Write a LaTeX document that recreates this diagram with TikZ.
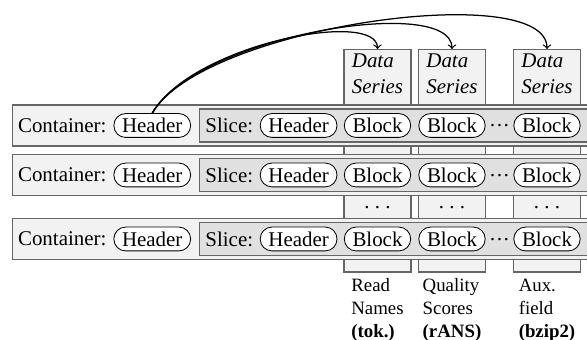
\documentclass[tikz,border=0pt]{standalone}
\usepackage{fontspec}
\setmainfont{Liberation Serif}
\usetikzlibrary{positioning,calc}

\begin{document}
\begin{tikzpicture}[
  x=0.0168cm, y=0.0168cm,
  container/.style={draw=black!60, fill=black!5, line width=0.7pt, minimum width=300pt, minimum height=19.5pt, anchor=west, inner sep=0pt},
  slicebox/.style={draw=black!60, fill=black!12, line width=0.7pt, minimum width=200pt, minimum height=15.7pt, anchor=west, inner sep=0pt},
  part/.style={draw, fill=white, rounded corners=5.6pt, minimum height=11.4pt, inner xsep=3.9pt, inner ysep=0pt},
  series/.style={draw=black!60, fill=black!5, line width=0.7pt, minimum width=31.9pt, minimum height=106.2pt, anchor=north, inner sep=0pt},
  sname/.style={anchor=north, align=left, inner ysep=2.3pt, font=\itshape},
  caption/.style={anchor=north, align=left, inner ysep=2.8pt, font=\small},
  arrow/.style={->, semithick}
]
\useasboundingbox (0,0) rectangle (587,340);
\clip (0,0) rectangle (587,340);

% data series columns (behind the rows)
\node[series] (rn) at (377.5,291) {};
\node[series] (qs) at (452,291) {};
\node[series] (aux) at (547,291) {};

\foreach \c in {rn,qs,aux} {
  \node[sname] (\c-name) at (\c.north) {Data\\Series};
  \node (\c-gap) at (\c |- 0,132) {.~.~.};
}

% containers
\foreach \r/\y in {1/214.5, 2/165, 3/101} {
  \node[container] (c\r) at (12,\y) {};
  \node[anchor=west, inner sep=0pt] (cl\r) at ([xshift=2.7pt]c\r.west) {Container:};
  \node[part, right=3.2pt of cl\r] (ch\r) {Header};
  \node[slicebox] (s\r) at (199,\y) {};
  \node[anchor=west, inner sep=0pt] (sl\r) at ([xshift=2.9pt]s\r.west) {Slice:};
  \node[part, right=3pt of sl\r] (sh\r) {Header};
  \node[part] (b\r a) at (rn |- c\r) {Block};
  \node[part] (b\r b) at (qs |- c\r) {Block};
  \node[part] (b\r c) at (aux |- c\r) {Block};
  \node[anchor=base, inner sep=0pt] (d\r) at ($(b\r b.base)!0.5!(b\r c.base)$) {\textperiodcentered\textperiodcentered\textperiodcentered};
}

\draw[arrow] (ch1.north) to[out=60, in=90, out looseness=0.87, in looseness=0.44] (rn.north);
\draw[arrow] (ch1.north) to[out=60, in=90, out looseness=0.75, in looseness=0.46] (qs.north);
\draw[arrow] (ch1.north) to[out=60, in=90, out looseness=0.64, in looseness=0.45] (aux.north);

\node[caption] (rn-cap) at (rn.south) {Read\\Names\\\textbf{(tok.)}};
\node[caption] (qs-cap) at (qs.south) {Quality\\Scores\\\textbf{(rANS)}};
\node[caption] (aux-cap) at (aux.south) {Aux.\\field\\\textbf{(bzip2)}};
\end{tikzpicture}
\end{document}
